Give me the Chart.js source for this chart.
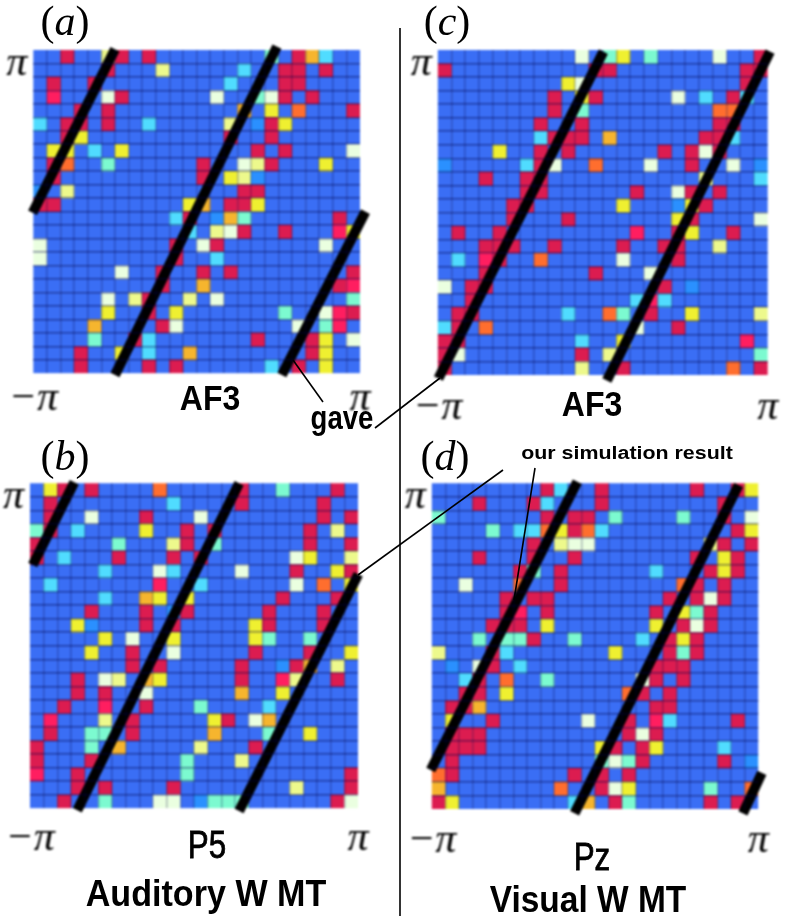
<!DOCTYPE html>
<html><head><meta charset="utf-8">
<script src="https://cdn.jsdelivr.net/npm/chart.js@4"></script>
<style>
html,body{margin:0;padding:0;background:#fff;width:787px;height:920px;overflow:hidden}
canvas{position:absolute;filter:blur(0.8px)}
svg{position:absolute;left:0;top:0;z-index:5}
.t{position:absolute;white-space:nowrap;color:#000;line-height:1;z-index:6}
.s{font-family:"Liberation Sans",sans-serif;font-weight:700}
.m{font-family:"Liberation Serif",serif;font-size:42px;transform:translate(-50%,-50%)}
.m i{font-style:italic}
</style></head><body>
<div id="charts"></div>
<svg width="787" height="920">
<line x1="400" y1="28" x2="400" y2="916" stroke="#000" stroke-width="1.6"/>
<line x1="293" y1="360" x2="323" y2="402" stroke="#000" stroke-width="1.6"/>
<line x1="375" y1="428" x2="440" y2="378" stroke="#000" stroke-width="1.6"/>
<line x1="503" y1="470" x2="358" y2="575" stroke="#000" stroke-width="1.6"/>
<line x1="535" y1="468" x2="514" y2="600" stroke="#000" stroke-width="1.6"/>
</svg>
<div class="t m" style="left:65px;top:21px">(<i>a</i>)</div>
<div class="t m" style="left:447px;top:21px">(<i>c</i>)</div>
<div class="t m" style="left:65px;top:456px">(<i>b</i>)</div>
<div class="t m" style="left:445px;top:456px">(<i>d</i>)</div>
<div class="t s" style="left:210px;top:398px;font-size:32px;transform:translate(-50%,-50%) scale(1,1.12)">AF3</div>
<div class="t s" style="left:592px;top:404px;font-size:32px;transform:translate(-50%,-50%) scale(1,1.12)">AF3</div>
<div class="t s" style="left:342px;top:418px;font-size:27px;transform:translate(-50%,-50%) scale(1.02,1.25)">gave</div>
<div class="t s" style="left:627px;top:453px;font-size:15.5px;transform:translate(-50%,-50%) scale(1.38,1.15)">our simulation result</div>
<div class="t s" style="left:207px;top:844px;font-size:33px;font-weight:400;-webkit-text-stroke:.7px #000;transform:translate(-50%,-50%) scale(.95,1.2)">P5</div>
<div class="t s" style="left:592px;top:856px;font-size:33px;font-weight:400;-webkit-text-stroke:.7px #000;transform:translate(-50%,-50%) scale(.95,1.2)">Pz</div>
<div class="t s" style="left:206px;top:893px;font-size:31px;transform:translate(-50%,-50%) scale(1.1,1.2)">Auditory W MT</div>
<div class="t s" style="left:588px;top:899px;font-size:31px;transform:translate(-50%,-50%) scale(1.08,1.2)">Visual W MT</div>
<script>
const phaseTicks = ['\u2212\u03C0', '\u03C0'];
const levels = {R:'#DC1C50',P:'#FF1E60',O:'#FF6E2E',G:'#F6B52E',Y:'#EFF030',y:'#EDF98C',W:'#EAFFE0',M:'#7CFAD0',C:'#50DCFF',L:'#2A90FF','.':'#3A6EF5'};
const panelA = [
"..R..yR.R........M.RGC..",
".....R...y.....C..RR.R..",
".R..R.........C...RR....",
".P...WR......W..MWR.R...",
"...R.R.........G.Y.O...R",
"C.RR.R..C.....y.LRY.....",
"..RY..........R..R......",
".YY.C.Y.........R.R....W",
".RO..M......R..WyR...Y..",
".R..........R.YyL.......",
"L.y............RR.......",
"RR.........YG.RRY.......",
"..........CR.LGM......R.",
"...........C.yWR..R...PY",
"W.........R.WR.......W..",
"W.........R..C..........",
"......W..R..R.R........R",
".........R..G.........RP",
".....W.yR..y.W.........M",
".....Y..R.Y.......M..WPR",
"....G....RW........W.MP.",
"....M..RC.......R...RY.W",
"...R..Y.C..G........RY..",
"...R....R.R......C.R.Y.."];
const panelC = [
"..........W.MY.M....W..R",
"R..........RR.........RR",
".........YW...........R.",
"........R.YR.....W.C.RC.",
"........R.M.........OO..",
".......R..R.........RR..",
".......CRRR.G......RRC..",
"....Y..R.R......R.RWR...",
"L.....CRW..O...W..R..W.L",
"...R..RR...........y...C",
"......RR......R..WR.R...",
".....RR......Y...LYR....",
".....R...R.......YR....W",
".R..R.........P..RY..R..",
"...RRR..R....R..RR..y...",
".C.PR..O.....W...R......",
"...R.......R...W........",
"W.RR............R.L.....",
"..R...........CPC.......",
".RR......C..OM.R..Y....y",
"CR.O..........W..R......",
"RR........C..Y........P.",
"RW........R.y..........M",
"R.........y..R.......O.R"];
const panelB = [
".YR.R....O.....R..M...R.",
".R........C....R.....R..",
".R..W...R...W........R.R",
"MR.C....Y..R.R......R.y.",
"R.....M...yR.M......R..R",
"R.C...R...R.R......WY..y",
".....C...WC....W...R..YR",
".C.......P..C......W.O.Y",
".....C..GY.Y......R...R.",
"....R...R.LR.....R...R..",
"...YL...R.R.....YR...R..",
".....Y.W..Y.....YM..M...",
"....Y..R..W.....R...R..Y",
".......R.R.....R..LRG.y.",
"...R.Wy.GY.....R..Py..R.",
"...R.R..W......G..Y.....",
"..R..P..R...M....C......",
".P...y.R.....YR.WG......",
".R..MM.R.....G...M..Y...",
"R...M.G.....y...R.......",
"R...R......M...y........",
"P..R.......M...........R",
"...R.R....R........y...R",
"..R..M...WW.LMMM......RW"];
const panelD = [
"........RC..R......R..RY",
"...R...RC...R........R..",
"M.......R.RR.M....M..R.W",
"....M.CCOYROC.........RY",
".......R.yWW........yR.R",
"...R...R..R........R.YR.",
"......RM.R......C...RYR.",
"..W...O..R........OR.R..",
".....R.RR........R.RWR..",
".....RP.R.......R.YMR...",
"....RRR.Y.......Y.RWR...",
"...M.MMR..M....C.RYR....",
"y...RC.......Y...RMR....",
".L.WR.C.........RRR.....",
"..CR.O..M......WR.R.....",
"..RR.Y........OR.R......",
".RRG............RR......",
".Y..R......W..R.PC....R.",
".RRR..........RWR.......",
".RRR........YR.RY....C..",
".R..........MWMR.....R.L",
"OR........R.R.R.........",
"G........O..RWY.....M..O",
"RY........CG.RM.....R.R."];
const linesA = [[[-0.05,12.08],[6.0,-0.05]],[[6.0,24.13],[17.9,-0.25]],[[18.26,24.13],[24.4,12.0]]];
const linesC = [[[0.05,24.26],[12.05,0.12]],[[12.3,24.4],[24.17,0.12]]];
const linesB = [[[0.2,6.03],[3.24,-0.07]],[[3.46,24.14],[15.3,0]],[[15.3,24.2],[24.02,6.72]]];
const linesD = [[[-0.07,21.13],[10.7,-0.12]],[[10.5,24.32],[22.55,0.12]],[[22.87,24.32],[24.26,21.33]]];

const N = 24;
const host = document.getElementById('charts');
function cells(grid, hot){
  const out = [];
  grid.forEach((row, r) => [...row].forEach((v, c) => {
    if ((v !== '.') === hot) out.push({x: c + .5, y: r + .5, v});
  }));
  return out;
}
function panel(grid, lines, box){
  const cv = document.createElement('canvas');
  cv.width = box.w; cv.height = box.h;
  cv.style.left = box.left + 'px'; cv.style.top = box.top + 'px';
  cv.style.width = box.w + 'px'; cv.style.height = box.h + 'px';
  host.appendChild(cv);
  const cellStyle = {
    showLine: false, pointStyle: 'rect', pointBorderWidth: 0,
    pointBackgroundColor: c => levels[c.raw.v],
    pointRadius: c => (c.chart.scales.x.width / N / 2 + .25) / Math.SQRT1_2
  };
  const lineSets = lines.map(l => ({
    data: l.map(p => ({x: p[0], y: p[1]})), showLine: true, pointRadius: 0,
    borderColor: '#000', borderWidth: 10, borderCapStyle: 'butt', clip: false, order: 0
  }));
  new Chart(cv, {
    type: 'scatter',
    data: {datasets: [...lineSets,
      {data: cells(grid, true), ...cellStyle, order: 1},
      {data: cells(grid, false), ...cellStyle, order: 2}]},
    options: {
      responsive: false, animation: false, devicePixelRatio: 1,
      layout: {padding: {top: box.pt, right: box.pr, left: 0, bottom: 0}},
      plugins: {legend: {display: false}, tooltip: {enabled: false}},
      scales: {
        x: {type: 'linear', min: 0, max: N, border: {display: false},
          afterFit: s => { s.height = box.ab; },
          grid: {z: 1, drawTicks: false, lineWidth: 1.6,
            color: c => (c.tick.value === 0 || c.tick.value === N) ? 'transparent' : 'rgba(0,0,70,.26)'},
          ticks: {stepSize: 1, autoSkip: false, maxRotation: 0, padding: box.tp, color: '#000',
            font: {family: '"Liberation Serif",serif', style: 'italic', size: 42},
            callback: v => v === 0 ? phaseTicks[0] : v === N ? phaseTicks[1] : ''}},
        y: {type: 'linear', reverse: true, min: 0, max: N, border: {display: false},
          afterFit: s => { s.width = box.al; },
          grid: {z: 1, drawTicks: false, lineWidth: 1.6,
            color: c => (c.tick.value === 0 || c.tick.value === N) ? 'transparent' : 'rgba(0,0,70,.46)'},
          ticks: {stepSize: 1, autoSkip: false, padding: 6, color: '#000',
            font: {family: '"Liberation Serif",serif', style: 'italic', size: 42},
            callback: v => v === 1 ? phaseTicks[1] : ''}}
      }
    }
  });
}
panel(panelA, linesA, {left:0,   top:16,  w:385, h:404, al:33.3, pt:34,  pr:25,   ab:46.7, tp:0});
panel(panelC, linesC, {left:400, top:16,  w:387, h:414, al:37.7, pt:34,  pr:19.3, ab:55,   tp:8});
panel(panelB, linesB, {left:0,   top:449, w:385, h:411, al:30,   pt:34.3,pr:27,   ab:51.7, tp:5});
panel(panelD, linesD, {left:400, top:449, w:387, h:411, al:29.3, pt:34.3,pr:28.7, ab:51,   tp:7});
</script>
</body></html>
